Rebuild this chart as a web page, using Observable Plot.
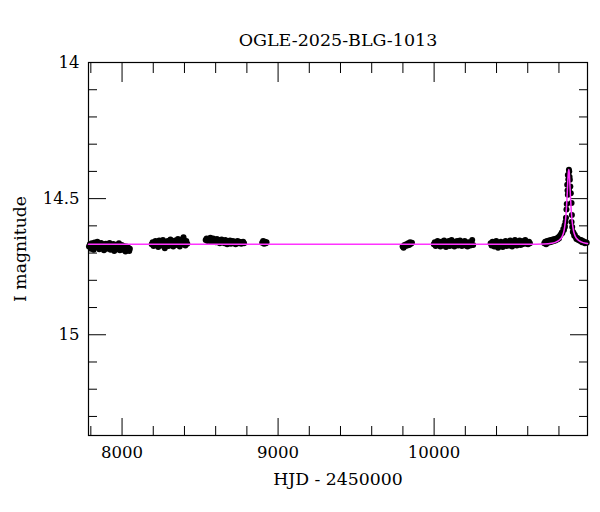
<!DOCTYPE html>
<html>
<head>
<meta charset="utf-8">
<script src="https://cdn.jsdelivr.net/npm/d3@7"></script>
<script src="https://cdn.jsdelivr.net/npm/@observablehq/plot@0.6"></script>
<style>
  html, body { margin: 0; padding: 0; background: #fff; }
</style>
</head>
<body>
<div id="chart"></div>
<script>
const title = "OGLE-2025-BLG-1013";
const xLabel = "HJD - 2450000";
const yLabel = "I magnitude";

const xMajorTicks = [8000, 9000, 10000];
const xMinorTicks = [7800, 8200, 8400, 8600, 8800, 9200, 9400, 9600, 9800, 10200, 10400, 10600, 10800];
const yMajorTicks = [14, 14.5, 15];
const yMinorTicks = [14.1, 14.2, 14.3, 14.4, 14.6, 14.7, 14.8, 14.9, 15.1, 15.2, 15.3];

// Observations: [HJD - 2450000, I mag]
const season2017 = [
  [7788,14.676],[7794,14.668],[7800,14.684],[7806,14.664],[7812,14.672],[7818,14.688],[7824,14.661],[7830,14.670],
  [7836,14.679],[7842,14.658],[7848,14.666],[7854,14.686],[7860,14.672],[7866,14.663],[7872,14.680],[7878,14.668],
  [7884,14.690],[7890,14.674],[7896,14.666],[7902,14.684],[7908,14.670],[7914,14.678],[7920,14.663],[7926,14.688],
  [7932,14.672],[7938,14.681],[7944,14.667],[7950,14.692],[7956,14.675],[7962,14.669],[7968,14.686],[7974,14.676],
  [7980,14.664],[7986,14.690],[7992,14.678],[7998,14.670],[8004,14.688],[8010,14.674],[8016,14.682],[8022,14.694],
  [8028,14.676],[8034,14.686],[8040,14.680],[8046,14.692],[8050,14.684]
];
const season2018 = [
  [8190,14.668],[8196,14.660],[8202,14.674],[8208,14.664],[8214,14.656],[8220,14.670],[8226,14.662],[8232,14.678],
  [8238,14.654],[8244,14.666],[8250,14.660],[8256,14.672],[8262,14.652],[8268,14.664],[8274,14.682],[8280,14.660],
  [8286,14.668],[8292,14.656],[8298,14.674],[8304,14.662],[8310,14.650],[8316,14.668],[8322,14.658],[8328,14.676],
  [8334,14.664],[8340,14.654],[8346,14.670],[8352,14.660],[8358,14.648],[8364,14.666],[8370,14.676],[8376,14.658],
  [8382,14.650],[8388,14.668],[8394,14.642],[8400,14.660],[8406,14.672],[8412,14.656],[8418,14.666]
];
const season2019 = [
  [8536,14.652],[8542,14.646],[8548,14.656],[8554,14.648],[8560,14.654],[8566,14.644],[8572,14.658],[8578,14.650],
  [8584,14.646],[8590,14.656],[8596,14.652],[8602,14.660],[8608,14.648],[8614,14.656],[8620,14.652],[8626,14.664],
  [8632,14.654],[8638,14.650],[8644,14.660],[8650,14.656],[8656,14.664],[8662,14.652],[8668,14.660],[8674,14.668],
  [8680,14.656],[8686,14.662],[8692,14.654],[8698,14.666],[8704,14.660],[8710,14.656],[8716,14.664],[8722,14.658],
  [8728,14.668],[8734,14.660],[8740,14.656],[8746,14.664],[8752,14.658],[8758,14.662],[8764,14.666],[8770,14.660],
  [8776,14.658],[8782,14.664]
];
const season2020 = [
  [8898,14.662],[8904,14.656],[8910,14.666],[8916,14.658],[8922,14.664],[8926,14.660]
];
const season2022 = [
  [9798,14.676],[9804,14.680],[9810,14.670],[9816,14.674],[9822,14.668],[9828,14.672],[9834,14.664],[9840,14.670],
  [9846,14.660],[9852,14.666],[9858,14.662]
];
const season2023 = [
  [9998,14.668],[10004,14.660],[10010,14.674],[10016,14.664],[10022,14.656],[10028,14.670],[10034,14.662],[10040,14.676],
  [10046,14.658],[10052,14.666],[10058,14.672],[10064,14.654],[10070,14.664],[10076,14.678],[10082,14.660],[10088,14.668],
  [10094,14.656],[10100,14.674],[10106,14.662],[10112,14.652],[10118,14.670],[10124,14.664],[10130,14.676],[10136,14.658],
  [10142,14.668],[10148,14.656],[10154,14.672],[10160,14.662],[10166,14.654],[10172,14.668],[10178,14.674],[10184,14.660],
  [10190,14.666],[10196,14.656],[10202,14.672],[10208,14.664],[10214,14.676],[10220,14.660],[10226,14.668],[10232,14.672],
  [10238,14.664],[10244,14.652],[10250,14.670]
];
const season2024 = [
  [10362,14.664],[10368,14.672],[10374,14.658],[10380,14.668],[10386,14.676],[10392,14.662],[10398,14.656],[10404,14.670],
  [10410,14.680],[10416,14.664],[10422,14.672],[10428,14.658],[10434,14.668],[10440,14.678],[10446,14.662],[10452,14.670],
  [10458,14.656],[10464,14.674],[10470,14.666],[10476,14.660],[10482,14.672],[10488,14.654],[10494,14.666],[10500,14.676],
  [10506,14.660],[10512,14.668],[10518,14.652],[10524,14.664],[10530,14.672],[10536,14.658],[10542,14.666],[10548,14.654],
  [10554,14.670],[10560,14.660],[10566,14.668],[10572,14.656],[10578,14.664],[10584,14.652],[10590,14.666],[10596,14.660],
  [10602,14.668],[10608,14.658],[10614,14.664]
];
const season2025 = [
  [10706,14.664],[10712,14.658],[10718,14.668],[10724,14.656],[10730,14.662],[10736,14.654],[10742,14.660],[10748,14.652],
  [10754,14.658],[10760,14.650],[10766,14.656],[10772,14.648],[10778,14.654],[10784,14.646],[10790,14.650],[10796,14.642],
  [10800,14.646],[10806,14.636],[10812,14.632],[10818,14.624],[10822,14.626],[10828,14.612],[10832,14.615],[10836,14.598],
  [10838,14.604],[10842,14.585],[10845,14.570],[10848,14.540],[10850,14.520],[10853,14.449],[10855,14.470],[10857,14.413],
  [10857,14.486],[10860,14.430],[10864,14.394],[10864,14.468],[10866,14.400],[10868,14.420],[10870,14.431],[10873,14.455],
  [10876,14.480],[10881,14.516],[10881,14.586],[10883,14.560],[10885,14.604],[10889,14.622],[10894,14.626],[10898,14.636],
  [10902,14.634],[10908,14.642],[10912,14.648],[10918,14.645],[10924,14.652],[10930,14.650],[10936,14.656],[10942,14.652],
  [10948,14.660],[10954,14.656],[10960,14.659],[10966,14.664],[10972,14.660],[10978,14.662]
];

// Model curve: [HJD - 2450000, I mag]
const modelCurve = [
  [7785,14.668],[10600,14.668],[10703,14.667],[10753,14.664],[10783,14.659],[10803,14.652],[10818,14.642],
  [10827,14.630],[10833,14.617],[10837,14.603],[10841,14.585],[10845,14.560],[10848,14.535],[10851,14.505],
  [10854,14.470],[10857,14.435],[10860,14.405],[10863,14.393],[10866,14.405],[10869,14.435],[10872,14.470],
  [10875,14.505],[10878,14.535],[10881,14.560],[10885,14.585],[10889,14.603],[10893,14.617],[10899,14.630],
  [10908,14.642],[10923,14.652],[10943,14.659],[10973,14.664],[10983,14.665]
];

const observations = [
  ...season2017, ...season2018, ...season2019, ...season2020,
  ...season2022, ...season2023, ...season2024, ...season2025
];

const ink = "#000";
const chart = Plot.plot({
  width: 600,
  height: 512,
  marginLeft: 88,
  marginRight: 13,
  marginTop: 62,
  marginBottom: 77,
  style: { fontFamily: "'DejaVu Serif', serif", fontSize: "16.5px", background: "#fff", color: ink },
  x: { domain: [7785, 10983] },
  y: { domain: [14, 15.37], reverse: true },
  marks: [
    Plot.frame({ stroke: ink, strokeWidth: 1.2 }),
    // inward ticks, all four sides
    Plot.axisX({ anchor: "bottom", ticks: xMajorTicks, tickSize: -17, tickFormat: () => "", label: null, stroke: ink }),
    Plot.axisX({ anchor: "bottom", ticks: xMinorTicks, tickSize: -9, tickFormat: () => "", label: null, stroke: ink }),
    Plot.axisX({ anchor: "top", ticks: xMajorTicks, tickSize: -19, tickFormat: () => "", label: null, stroke: ink }),
    Plot.axisX({ anchor: "top", ticks: xMinorTicks, tickSize: -10, tickFormat: () => "", label: null, stroke: ink }),
    Plot.axisY({ anchor: "left", ticks: yMajorTicks, tickSize: -18, tickFormat: () => "", label: null, stroke: ink }),
    Plot.axisY({ anchor: "left", ticks: yMinorTicks, tickSize: -9, tickFormat: () => "", label: null, stroke: ink }),
    Plot.axisY({ anchor: "right", ticks: yMajorTicks, tickSize: -18, tickFormat: () => "", label: null, stroke: ink }),
    Plot.axisY({ anchor: "right", ticks: yMinorTicks, tickSize: -9, tickFormat: () => "", label: null, stroke: ink }),
    // tick labels
    Plot.axisX({ anchor: "bottom", ticks: xMajorTicks, tickSize: 0, tickPadding: 11, tickFormat: d => String(d), label: null, fill: ink, fontSize: 16.5 }),
    Plot.axisY({ anchor: "left", ticks: yMajorTicks, tickSize: 0, tickPadding: 9, tickFormat: d => String(d), label: null, fill: ink, fontSize: 16.5 }),
    // data
    Plot.dot(observations, { x: d => d[0], y: d => d[1], r: 3, fill: ink, stroke: "none" }),
    Plot.line(modelCurve, { x: d => d[0], y: d => d[1], stroke: "#ff33ff", strokeWidth: 1.5, curve: "monotone-x" }),
    // titles
    Plot.text([title], { frameAnchor: "top", dy: -29, text: d => d, fill: ink, fontSize: 17.5, textAnchor: "middle" }),
    Plot.text([xLabel], { frameAnchor: "bottom", dy: 49, text: d => d, fill: ink, fontSize: 17.3, textAnchor: "middle" }),
    Plot.text([yLabel], { frameAnchor: "left", dx: -68, rotate: -90, text: d => d, fill: ink, fontSize: 17.3, textAnchor: "middle" })
  ]
});
document.getElementById("chart").appendChild(chart);
</script>
</body>
</html>
